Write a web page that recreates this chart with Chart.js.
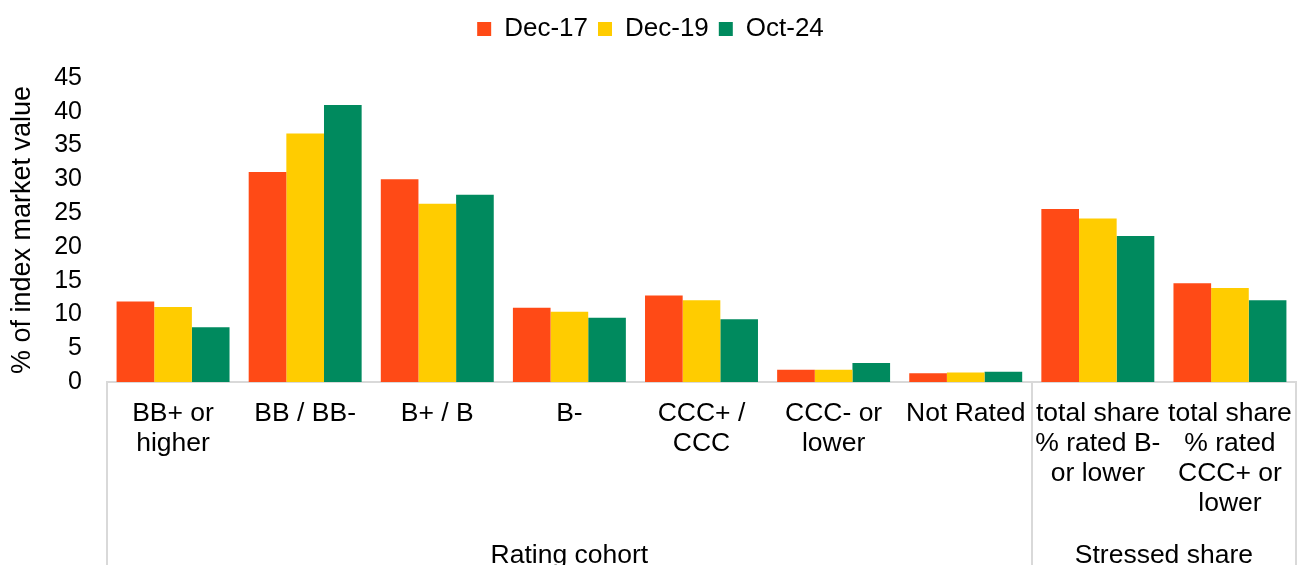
<!DOCTYPE html>
<html>
<head>
<meta charset="utf-8">
<title>Rating cohort share</title>
<script src="https://cdn.jsdelivr.net/npm/chart.js@4.4.1/dist/chart.umd.min.js"></script>
<style>
  html, body { margin: 0; padding: 0; background: #ffffff; }
  .wrap { position: relative; width: 1304px; height: 565px; }
</style>
</head>
<body>
<div class="wrap"><canvas id="barChart"></canvas></div>
<script>
const categories = [
  ["BB+ or", "higher"],
  ["BB / BB-"],
  ["B+ / B"],
  ["B-"],
  ["CCC+ /", "CCC"],
  ["CCC- or", "lower"],
  ["Not Rated"],
  ["total share", "% rated B-", "or lower"],
  ["total share", "% rated", "CCC+ or", "lower"]
];
const seriesNames = ["Dec-17", "Dec-19", "Oct-24"];
const dec17 = [11.9, 31.1, 30.0, 11.0, 12.8, 1.8, 1.3, 25.6, 14.6];
const dec19 = [11.1, 36.8, 26.4, 10.4, 12.1, 1.8, 1.4, 24.2, 13.9];
const oct24 = [8.1, 41.0, 27.7, 9.5, 9.3, 2.8, 1.5, 21.6, 12.1];
const groups = [
  { label: "Rating cohort", from: 0, to: 6 },
  { label: "Stressed share", from: 7, to: 8 }
];
const yTickValues = [0, 5, 10, 15, 20, 25, 30, 35, 40, 45];

const FONT = "'Liberation Sans', Arial, sans-serif";
const LINE = "#d9d9d9";
const colors = ["#ff4a16", "#ffcc00", "#008a5e"];

// plot box, in page pixels
const PAD_TOP = 6;
const PLOT_TOP = 78;
const PLOT_BOTTOM = 382;
const Y_AXIS_W = 102;

Chart.defaults.font.family = FONT;
Chart.defaults.color = "#000000";

// legend sits at the top, plot starts well below it
const legendSpacer = {
  id: "legendSpacer",
  beforeInit(chart) {
    const fit = chart.legend.fit;
    chart.legend.fit = function () {
      fit.bind(chart.legend)();
      this.height = PLOT_TOP - PAD_TOP;
    };
  }
};

// group labels + the vertical divider lines under the x axis
const groupAxis = {
  id: "groupAxis",
  afterDraw(chart) {
    const { ctx, chartArea } = chart;
    const x = chart.scales.x;
    const edge = (i) => (x.getPixelForValue(i) + x.getPixelForValue(i + 1)) / 2;
    const bounds = groups.map((g) => {
      const left = g.from === 0 ? x.left : edge(g.from - 1);
      const right = g.to === categories.length - 1 ? x.right : edge(g.to);
      return { left, right, label: g.label };
    });

    ctx.save();
    ctx.strokeStyle = LINE;
    ctx.lineWidth = 2;
    const lines = [bounds[0].left, ...bounds.map((b) => b.right)];
    lines.forEach((lx) => {
      ctx.beginPath();
      ctx.moveTo(Math.round(lx), chartArea.bottom);
      ctx.lineTo(Math.round(lx), chart.height);
      ctx.stroke();
    });

    ctx.fillStyle = "#000000";
    ctx.font = "26.5px " + FONT;
    ctx.textAlign = "center";
    ctx.textBaseline = "alphabetic";
    bounds.forEach((b) => {
      ctx.fillText(b.label, (b.left + b.right) / 2, 563);
    });
    ctx.restore();
  }
};

new Chart(document.getElementById("barChart"), {
  type: "bar",
  data: {
    labels: categories,
    datasets: [dec17, dec19, oct24].map((data, i) => ({
      label: seriesNames[i],
      data,
      backgroundColor: colors[i],
      borderWidth: 0,
      categoryPercentage: 0.855,
      barPercentage: 1
    }))
  },
  options: {
    responsive: true,
    maintainAspectRatio: false,
    animation: false,
    layout: { padding: { top: PAD_TOP, left: 5, right: 8, bottom: 0 } },
    plugins: {
      legend: {
        position: "top",
        labels: {
          boxWidth: 14,
          boxHeight: 14,
          padding: 10,
          font: { size: 26 }
        }
      },
      tooltip: { enabled: false }
    },
    scales: {
      y: {
        min: yTickValues[0],
        max: yTickValues[yTickValues.length - 1],
        afterBuildTicks(scale) {
          scale.ticks = yTickValues.map((v) => ({ value: v }));
        },
        afterFit(scale) {
          scale.width = Y_AXIS_W;
        },
        ticks: { padding: 25, font: { size: 25 } },
        grid: { display: false, drawTicks: false },
        border: { display: false },
        title: {
          display: true,
          text: "% of index market value",
          font: { size: 27 },
          padding: { top: 1, bottom: 16 }
        }
      },
      x: {
        afterFit(scale) {
          scale.height = 565 - PLOT_BOTTOM;
          scale.paddingLeft = 0;
          scale.paddingRight = 0;
        },
        grid: { display: false, drawTicks: false },
        border: { display: true, color: LINE, width: 2 },
        ticks: {
          autoSkip: false,
          maxRotation: 0,
          padding: 17,
          font: { size: 26.5, lineHeight: 1.13 }
        }
      }
    }
  },
  plugins: [legendSpacer, groupAxis]
});
</script>
</body>
</html>
